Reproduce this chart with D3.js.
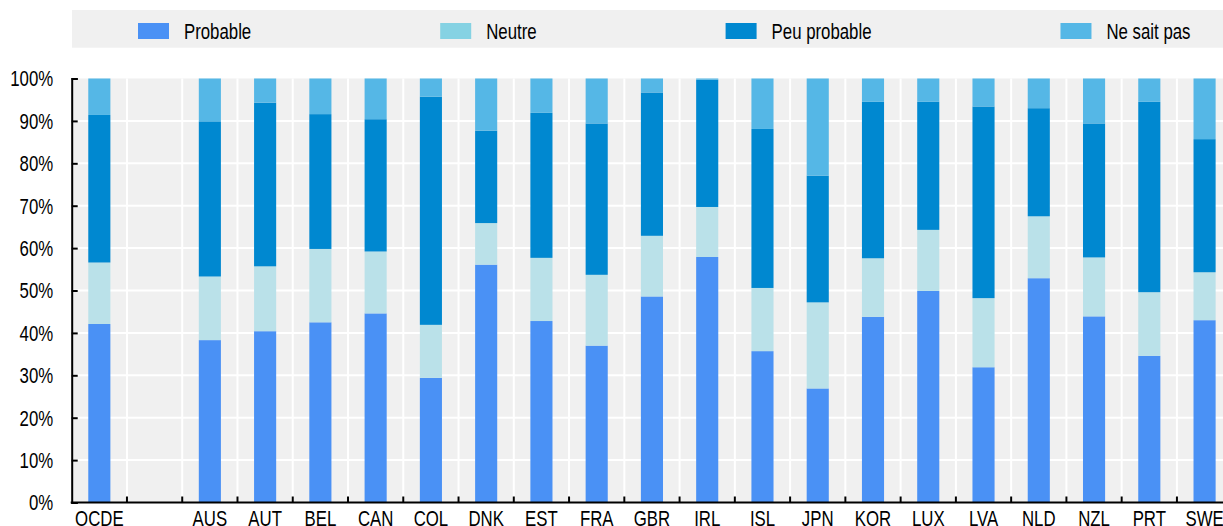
<!DOCTYPE html>
<html>
<head>
<meta charset="utf-8">
<script src="https://cdn.jsdelivr.net/npm/d3@7"></script>
<style>
  html, body { margin: 0; padding: 0; background: #fff; overflow: hidden; }
  svg { display: block; }
  text { font-family: "Liberation Sans", Arial, sans-serif; font-size: 16.8px; fill: #000; }
</style>
</head>
<body>
<svg id="chart" width="1223" height="526"></svg>
<script>
// Countries (the empty slot separates the OECD average from the countries)
const categories = ["OCDE", "", "AUS", "AUT", "BEL", "CAN", "COL", "DNK", "EST", "FRA", "GBR",
  "IRL", "ISL", "JPN", "KOR", "LUX", "LVA", "NLD", "NZL", "PRT", "SWE"];

// Shares of respondents, in %
const probable    = [42.1, null, 38.3, 40.4, 42.5, 44.6, 29.4, 56.1, 42.8, 37.0, 48.6,
  57.9, 35.7, 26.9, 43.8, 49.9, 31.9, 52.9, 43.9, 34.6, 43.0];
const neutre      = [14.5, null, 15.0, 15.3, 17.3, 14.6, 12.5, 9.8, 14.9, 16.7, 14.3,
  11.8, 14.9, 20.3, 13.8, 14.4, 16.3, 14.6, 13.9, 15.0, 11.3];
const peuProbable = [34.8, null, 36.6, 38.6, 31.8, 31.2, 53.8, 21.8, 34.2, 35.7, 33.8,
  30.0, 37.5, 29.9, 36.9, 30.2, 45.2, 25.5, 31.6, 44.9, 31.4];
const neSaitPas   = [8.6, null, 10.1, 5.7, 8.4, 9.6, 4.3, 12.3, 8.1, 10.6, 3.3,
  0.3, 11.9, 22.9, 5.5, 5.5, 6.6, 7.0, 10.6, 5.5, 14.3];

const seriesNames = ["Probable", "Neutre", "Peu probable", "Ne sait pas"];
const barColors = ["#4a91f5", "#bae1e9", "#0088d0", "#55b7e6"];
const legendColors = ["#4a91f5", "#85d2e3", "#0088d0", "#55b7e6"];

const yTicks = [0, 10, 20, 30, 40, 50, 60, 70, 80, 90, 100];

const svg = d3.select("#chart");
const textScaleY = 1.28;

const plot = { left: 71.7, right: 1232.2, top: 78.5, bottom: 502.5 };

const x = d3.scaleBand()
  .domain(d3.range(categories.length))
  .range([plot.left, plot.right])
  .padding(0);

const y = d3.scaleLinear()
  .domain([0, 100])
  .range([plot.bottom, plot.top]);

const barWidth = x.bandwidth() * 0.4;

// Legend strip
const legend = svg.append("g");
legend.append("rect")
  .attr("x", 72).attr("y", 10)
  .attr("width", 1223 - 72).attr("height", 37.7)
  .attr("fill", "#f0f0f0");

let lx = 138;
seriesNames.forEach((name, i) => {
  legend.append("rect")
    .attr("x", lx).attr("y", 23)
    .attr("width", 31).attr("height", 16)
    .attr("fill", legendColors[i]);
  const t = legend.append("text")
    .attr("transform", `translate(${lx + 46},39) scale(1,${textScaleY})`)
    .text(name);
  lx += 46 + t.node().getComputedTextLength() + 189;
});

// Plot background and grid
svg.append("rect")
  .attr("x", plot.left).attr("y", plot.top)
  .attr("width", plot.right - plot.left).attr("height", plot.bottom - plot.top)
  .attr("fill", "#f0f0f0");

const grid = svg.append("g").attr("stroke", "#fff").attr("stroke-width", 2);
grid.selectAll("line.h")
  .data(yTicks.filter(v => v > 0 && v < 100))
  .join("line")
  .attr("x1", plot.left).attr("x2", plot.right)
  .attr("y1", d => y(d)).attr("y2", d => y(d));
grid.selectAll("line.v")
  .data(d3.range(1, categories.length))
  .join("line")
  .attr("x1", d => x(d)).attr("x2", d => x(d))
  .attr("y1", plot.top).attr("y2", plot.bottom);

// Stacked bars
const rows = categories.map((c, i) => ({
  i,
  s0: probable[i], s1: neutre[i], s2: peuProbable[i], s3: neSaitPas[i]
})).filter(d => d.s0 != null);

const stack = d3.stack().keys(["s0", "s1", "s2", "s3"]);
const layers = stack(rows);

svg.append("g").selectAll("g")
  .data(layers)
  .join("g")
  .attr("fill", (d, k) => barColors[k])
  .selectAll("rect")
  .data(d => d)
  .join("rect")
  .attr("x", d => x(d.data.i) + (x.bandwidth() - barWidth) / 2)
  .attr("width", barWidth)
  .attr("y", d => y(d[1]))
  .attr("height", d => y(d[0]) - y(d[1]));

// Y axis
const yAxis = svg.append("g")
  .attr("transform", `translate(${plot.left},0)`)
  .call(d3.axisRight(y).tickValues(yTicks).tickSize(6).tickFormat(d => d + "%"));
yAxis.select(".domain").attr("stroke", "#000").attr("stroke-width", 2);
yAxis.selectAll(".tick line").attr("stroke", "#000").attr("stroke-width", 2);
yAxis.selectAll(".tick text")
  .attr("x", 0).attr("dy", 0)
  .attr("text-anchor", "end")
  .attr("font-size", null).attr("font-family", null)
  .attr("transform", `translate(-18.5,0) scale(1,${textScaleY}) translate(0,5.8)`);

// X axis: boundary ticks
const xAxis = svg.append("g");
xAxis.append("line")
  .attr("x1", plot.left - 1).attr("x2", plot.right)
  .attr("y1", plot.bottom).attr("y2", plot.bottom)
  .attr("stroke", "#000").attr("stroke-width", 2);
xAxis.selectAll("line.tick")
  .data(d3.range(1, categories.length))
  .join("line")
  .attr("class", "tick")
  .attr("x1", d => x(d)).attr("x2", d => x(d))
  .attr("y1", plot.bottom).attr("y2", plot.bottom - 6)
  .attr("stroke", "#000").attr("stroke-width", 2);

// X axis: category labels
xAxis.selectAll("text")
  .data(categories.map((c, i) => ({ c, i })).filter(d => d.c !== ""))
  .join("text")
  .attr("text-anchor", "middle")
  .attr("transform", d => `translate(${x(d.i) + x.bandwidth() / 2},${plot.bottom + 23.2}) scale(1,${textScaleY})`)
  .text(d => d.c);
</script>
</body>
</html>
